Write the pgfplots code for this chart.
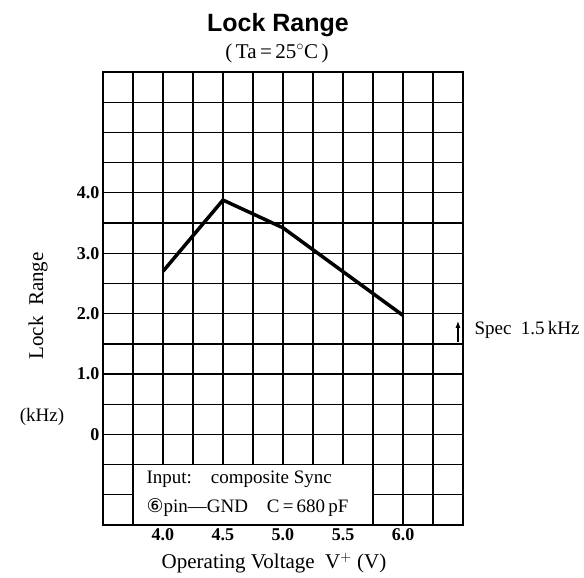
\documentclass[border=0pt]{standalone}
\usepackage{pgfplots}
\pgfplotsset{compat=1.18}
\usetikzlibrary{arrows.meta}
\usepackage{fontspec}
\setmainfont{Liberation Serif}
\newfontfamily\headfont{Liberation Sans}
\newfontfamily\dejavu{DejaVu Sans}
\begin{document}
\begin{tikzpicture}
\path[use as bounding box] (-103pt,-53pt) rectangle (481pt,525pt);
\begin{axis}[
  scale only axis,
  width=360pt, height=453pt,
  xmin=3.5, xmax=6.5, ymin=-1.5, ymax=6.0,
  xtick={4,4.5,5,5.5,6},
  xticklabels={4.0,4.5,5.0,5.5,6.0},
  minor xtick={3.5,3.75,...,6.5},
  ytick={0,1,2,3,4},
  yticklabels={0,1.0,2.0,3.0,4.0},
  minor ytick={-1.5,-1,...,6},
  grid=both,
  major grid style={black, line width=1.3pt},
  minor grid style={black, line width=1.3pt},
  major tick length=0pt, minor tick length=0pt,
  axis line style={black, line width=2.2pt},
  tick label style={font=\bfseries\fontsize{18}{18}\selectfont},
  /pgf/number format/assume math mode=true,
  xticklabel style={yshift=0pt},
  yticklabel style={xshift=0pt},
  clip=false,
]
\fill[white] ([xshift=0.9pt,yshift=1.3pt]axis cs:3.75,-1.5) rectangle ([xshift=-0.9pt,yshift=-0.9pt]axis cs:5.75,-0.5);
\addplot[black, line width=3.5pt, line join=miter] coordinates {(4.0,2.70) (4.5,3.88) (5.0,3.42) (6.0,1.97)};
\addplot[black, line width=2.4pt] coordinates {(3.5,1.5) (6.5,1.5)};
\draw[black, line width=1.3pt, -{Latex[length=7pt,width=5pt]}] (axis cs:6.458,1.53) -- (axis cs:6.458,1.88);
\end{axis}
\node[font=\headfont\bfseries\fontsize{25}{25}\selectfont] at (175pt,500pt) {Lock Range};
\node[font=\fontsize{21}{21}\selectfont] at (174pt,472pt) {(\,Ta\,=\,25$^\circ$C\,)};
\node[font=\fontsize{21}{21}\selectfont, rotate=90] at (-65pt,219pt) {Lock\ \ Range};
\node[font=\fontsize{19}{19}\selectfont] at (-61pt,108pt) {(kHz)};
\node[font=\fontsize{19}{19}\selectfont, anchor=west] at (368pt,195pt) {Spec\ \ 1.5\,kHz};
\node[font=\fontsize{21}{21}\selectfont] at (171pt,-38pt) {Operating Voltage\ \ V$^+$\ (V)};
\node[font=\fontsize{19}{19}\selectfont, anchor=west] at (40pt,46pt) {Input:\ \ \ \ composite Sync};
\node[font=\fontsize{19}{19}\selectfont, anchor=west] at (40pt,17pt) {{\dejavu ⑥}pin---GND\ \ \ \ C\,=\,680\,pF};
\end{tikzpicture}
\end{document}
